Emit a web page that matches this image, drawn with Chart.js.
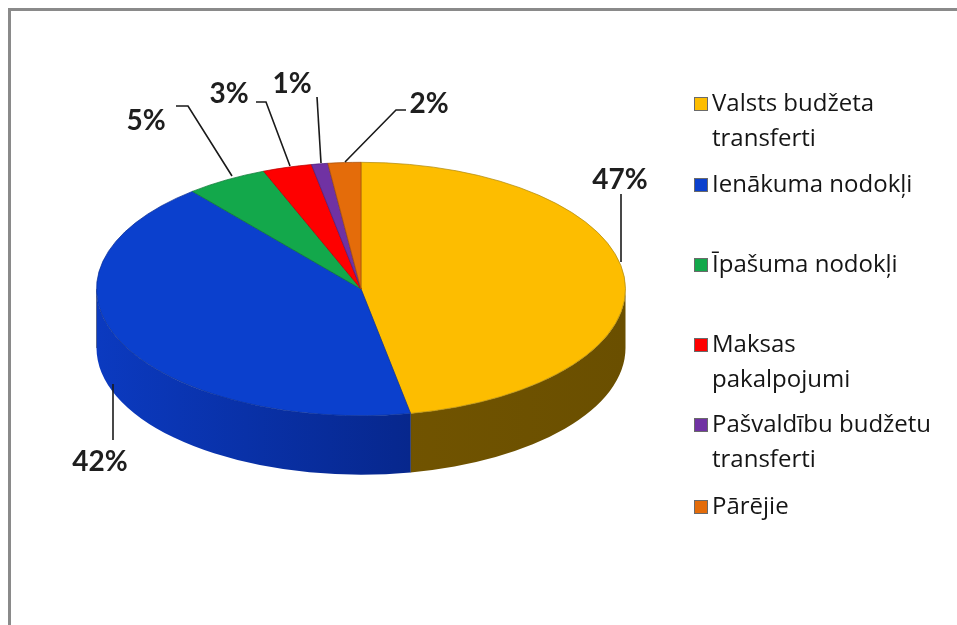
<!DOCTYPE html>
<html>
<head>
<meta charset="utf-8">
<script src="https://cdn.jsdelivr.net/npm/chart.js@4/dist/chart.umd.min.js"></script>
<style>
  html, body { margin: 0; padding: 0; background: #fff; }
  #wrap { position: relative; width: 957px; height: 625px; }
  canvas { display: block; }
</style>
</head>
<body>
<div id="wrap"><canvas id="c" width="957" height="625"></canvas></div>
<script>
// ---- data ----
const categories = [
  ['Valsts budžeta', 'transferti'],
  ['Ienākuma nodokļi'],
  ['Īpašuma nodokļi'],
  ['Maksas', 'pakalpojumi'],
  ['Pašvaldību budžetu', 'transferti'],
  ['Pārējie']
];
const values = [47, 42, 5, 3, 1, 2];
const percentLabels = ['47%', '42%', '5%', '3%', '1%', '2%'];

// ---- styles ----
const topColors   = ['#FDBD00', '#0B40CD', '#13A84B', '#FE0000', '#7032A3', '#E46C0A'];
const edgeColors  = ['#B08A10', '#0A2E96', '#0E7A38', '#B80000', '#50207A', '#A84E08'];
const sideLight   = ['#7A5A00', '#0B3AC0', '#0C6E30', '#9A0000', '#4A1C70', '#8A4206'];
const sideDark    = ['#6A4F00', '#041A6A', '#074A20', '#6A0000', '#300F50', '#5A2A04'];
const TILT = 0.479;
const DEPTH = 59;

// label layout (annotation placement)
const labelPos = [[620, 180], [100, 462], [146, 121], [229, 94], [292, 84], [429, 104]];
const leaders = [
  [[621, 194], [621, 262]],
  [[113, 440], [113, 384]],
  [[176, 106], [188, 106], [232, 176]],
  [[256, 102], [266, 102], [290, 166]],
  [[317, 97], [321, 163]],
  [[406, 110], [396, 110], [345, 162]]
];
const legendY = [104, 185, 265, 345, 425, 507];

const pie3d = {
  id: 'pie3d',
  beforeDatasetsDraw(chart) {
    const meta = chart.getDatasetMeta(0);
    const ctx = chart.ctx;
    const a0 = meta.data[0];
    const cx = a0.x, cy = a0.y, r = a0.outerRadius, ry = r * TILT;
    ctx.save();
    meta.data.forEach((el, i) => {
      const s = Math.max(el.startAngle, 0), e = Math.min(el.endAngle, Math.PI);
      if (e <= s) return;
      ctx.beginPath();
      ctx.ellipse(cx, cy, r, ry, 0, s, e);
      ctx.ellipse(cx, cy + DEPTH, r, ry, 0, e, s, true);
      ctx.closePath();
      const g = ctx.createLinearGradient(cx - r, 0, cx + r, 0);
      g.addColorStop(0, sideLight[i]);
      g.addColorStop(1, sideDark[i]);
      ctx.fillStyle = g;
      ctx.fill();
      ctx.beginPath();
      ctx.moveTo(cx + r * Math.cos(e), cy + ry * Math.sin(e));
      ctx.lineTo(cx + r * Math.cos(e), cy + ry * Math.sin(e) + DEPTH);
      ctx.strokeStyle = 'rgba(0,0,0,0.35)';
      ctx.lineWidth = 1;
      ctx.stroke();
    });
    ctx.translate(cx, cy);
    ctx.scale(1, TILT);
    ctx.translate(-cx, -cy);
  },
  afterDatasetsDraw(chart) {
    const ctx = chart.ctx;
    ctx.restore();
    ctx.save();
    ctx.strokeStyle = '#1a1a1a';
    ctx.lineWidth = 1.6;
    leaders.forEach(pts => {
      ctx.beginPath();
      ctx.moveTo(pts[0][0], pts[0][1]);
      for (let k = 1; k < pts.length; k++) ctx.lineTo(pts[k][0], pts[k][1]);
      ctx.stroke();
    });
    ctx.fillStyle = '#1e1e1e';
    ctx.font = 'bold 28px Lato, "Open Sans", sans-serif';
    ctx.textAlign = 'center';
    ctx.textBaseline = 'middle';
    percentLabels.forEach((t, i) => ctx.fillText(t, labelPos[i][0], labelPos[i][1]));
    // legend
    ctx.font = '24px "Open Sans", Lato, sans-serif';
    ctx.textAlign = 'left';
    categories.forEach((lines, i) => {
      const y = legendY[i];
      ctx.fillStyle = topColors[i];
      ctx.fillRect(694, y - 7, 14, 14);
      ctx.strokeStyle = '#6a6a6a';
      ctx.lineWidth = 1;
      ctx.strokeRect(694.5, y - 6.5, 13, 13);
      ctx.fillStyle = '#151515';
      lines.forEach((ln, j) => ctx.fillText(ln, 712, y + j * 35));
    });
    // frame
    ctx.fillStyle = '#8a8a8a';
    ctx.fillRect(8, 8, 949, 3);
    ctx.fillRect(8, 8, 3, 617);
    ctx.restore();
  }
};

new Chart(document.getElementById('c'), {
  type: 'pie',
  data: {
    labels: categories,
    datasets: [{
      data: values,
      backgroundColor: topColors,
      borderColor: edgeColors,
      borderWidth: 1,
      hoverOffset: 0,
      clip: false
    }]
  },
  options: {
    responsive: false,
    animation: false,
    events: [],
    layout: { padding: { left: 96, right: 331, top: 24, bottom: 71 } },
    plugins: { legend: { display: false }, tooltip: { enabled: false } }
  },
  plugins: [pie3d]
});
</script>
</body>
</html>
